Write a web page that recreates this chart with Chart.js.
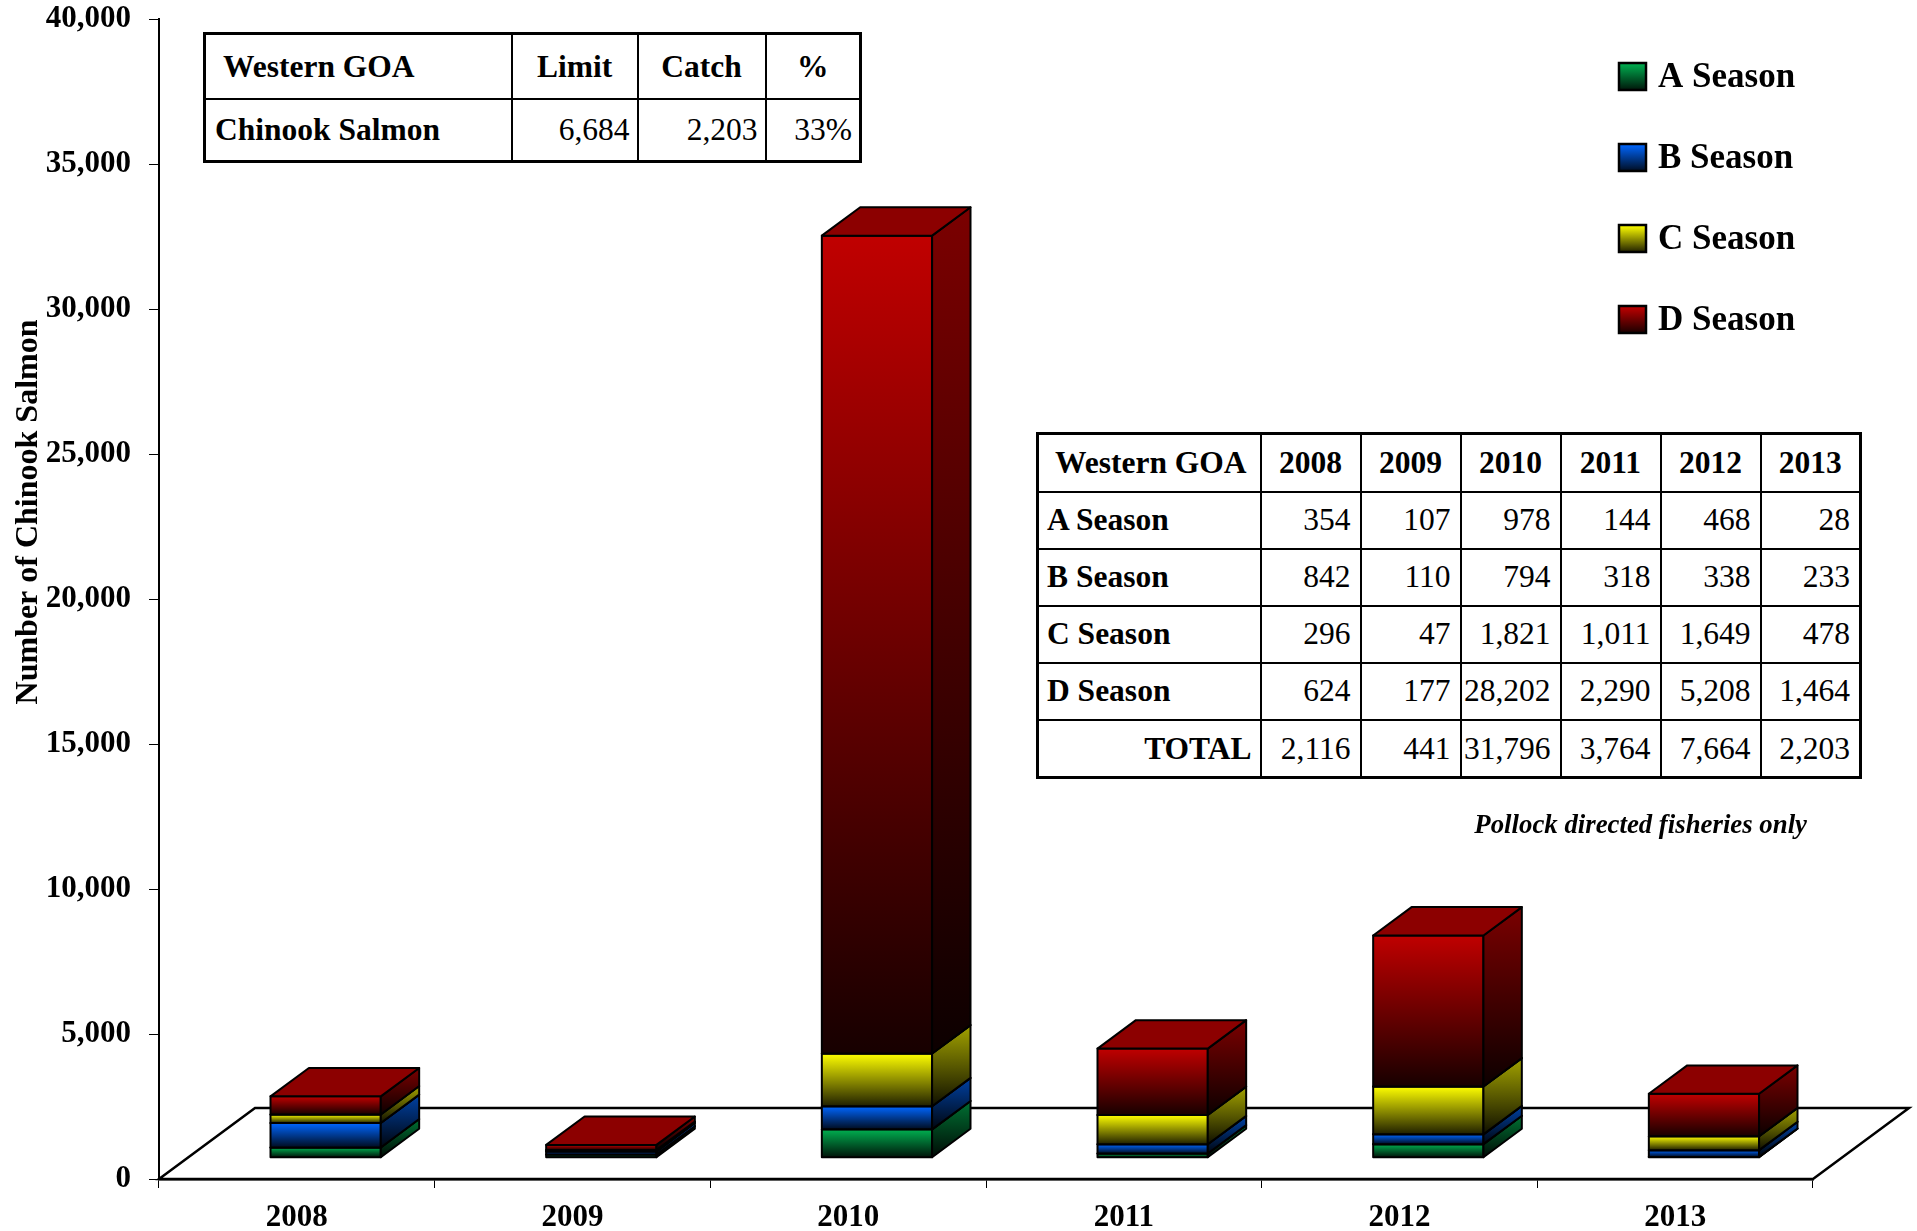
<!DOCTYPE html>
<html>
<head>
<meta charset="utf-8">
<script src="https://cdn.jsdelivr.net/npm/chart.js@4/dist/chart.umd.min.js"></script>
<style>
html,body{margin:0;padding:0;background:#fff;}
#wrap{position:relative;width:1917px;height:1231px;overflow:hidden;}
#chart{position:absolute;left:0;top:0;}
table.t{position:absolute;border-collapse:collapse;table-layout:fixed;font-family:"Liberation Serif","Times New Roman",serif;font-size:31.5px;color:#000;border:3px solid #000;background:#fff;}
table.t td{border:2px solid #000;padding:0;white-space:nowrap;overflow:hidden;line-height:1;}
td.b{font-weight:bold;}
td.l{text-align:left;}
td.c{text-align:center;}
td.r{text-align:right;}
#note{position:absolute;font-family:"Liberation Serif","Times New Roman",serif;font-size:26.8px;font-weight:bold;font-style:italic;color:#000;white-space:nowrap;}
</style>
</head>
<body>
<div id="wrap">
<canvas id="chart" width="1917" height="1231"></canvas>
<table class="t" id="t1"></table>
<table class="t" id="t2"></table>
<div id="note"></div>
</div>
<script>
// ---------- DATA ----------
const categories = ['2008', '2009', '2010', '2011', '2012', '2013'];
const seasonLabels = ['A Season', 'B Season', 'C Season', 'D Season'];
const aSeason = [354, 107, 978, 144, 468, 28];
const bSeason = [842, 110, 794, 318, 338, 233];
const cSeason = [296, 47, 1821, 1011, 1649, 478];
const dSeason = [624, 177, 28202, 2290, 5208, 1464];
const totals = [2116, 441, 31796, 3764, 7664, 2203];
const yAxisMax = 40000;
const yAxisStep = 5000;
const yAxisTitle = 'Number of Chinook Salmon';
const tableRegion = 'Western GOA';
const summaryHeaders = ['Limit', 'Catch', '%'];
const summaryLabel = 'Chinook Salmon';
const summaryLimit = 6684;
const summaryCatch = 2203;
const summaryPct = '33%';
const totalLabel = 'TOTAL';
const noteText = 'Pollock directed fisheries only';

// ---------- STYLE ----------
const seasonColors = ['#00B050', '#0066FF', '#FFFF00', '#C00000'];
const FONT = '"Liberation Serif", "Times New Roman", serif';
const FLOOR = { dx: 96, dy: -71 };
const BAR_FRONT = 0.3, BAR_DEPTH = 0.4;

function shade(hex, f) {
  const n = parseInt(hex.slice(1), 16);
  const r = Math.round(((n >> 16) & 255) * f);
  const g = Math.round(((n >> 8) & 255) * f);
  const b = Math.round((n & 255) * f);
  return `rgb(${r},${g},${b})`;
}
const fmt = v => Number(v).toLocaleString('en-US');

const seriesValues = [aSeason, bSeason, cSeason, dSeason];

const bars3d = {
  id: 'bars3d',
  beforeDatasetsDraw(chart) {
    const { ctx, chartArea: a, scales: { y } } = chart;
    const y0 = y.getPixelForValue(0);
    ctx.save();
    ctx.beginPath();
    ctx.moveTo(a.left, y0);
    ctx.lineTo(a.left + FLOOR.dx, y0 + FLOOR.dy);
    ctx.lineTo(a.right + FLOOR.dx, y0 + FLOOR.dy);
    ctx.lineTo(a.right, y0);
    ctx.closePath();
    ctx.fillStyle = '#fff';
    ctx.fill();
    ctx.lineWidth = 2.5;
    ctx.strokeStyle = '#000';
    ctx.stroke();
    ctx.restore();
  },
  afterDatasetsDraw(chart) {
    const ctx = chart.ctx;
    const ox = FLOOR.dx * BAR_FRONT, oy = FLOOR.dy * BAR_FRONT;
    const dx = FLOOR.dx * BAR_DEPTH, dy = FLOOR.dy * BAR_DEPTH;
    const n = chart.data.labels.length;
    ctx.save();
    ctx.lineJoin = 'round';
    ctx.strokeStyle = '#000';
    ctx.lineWidth = 2;
    for (let i = 0; i < n; i++) {
      chart.data.datasets.forEach((ds, di) => {
        const el = chart.getDatasetMeta(di).data[i];
        const p = el.getProps(['x', 'y', 'base', 'width'], true);
        const xl = p.x - p.width / 2 + ox, xr = p.x + p.width / 2 + ox;
        const yt = Math.min(p.y, p.base) + oy, yb = Math.max(p.y, p.base) + oy;
        const c = seasonColors[di];
        // front
        let g = ctx.createLinearGradient(0, yt, 0, yb);
        g.addColorStop(0, shade(c, 1));
        g.addColorStop(1, shade(c, 0.12));
        ctx.fillStyle = g;
        ctx.beginPath();
        ctx.rect(xl, yt, xr - xl, yb - yt);
        ctx.fill(); ctx.stroke();
        // side
        g = ctx.createLinearGradient(0, yt + dy, 0, yb);
        g.addColorStop(0, shade(c, 0.64));
        g.addColorStop(1, shade(c, 0.06));
        ctx.fillStyle = g;
        ctx.beginPath();
        ctx.moveTo(xr, yt);
        ctx.lineTo(xr + dx, yt + dy);
        ctx.lineTo(xr + dx, yb + dy);
        ctx.lineTo(xr, yb);
        ctx.closePath();
        ctx.fill(); ctx.stroke();
        // top
        ctx.fillStyle = shade(c, 0.73);
        ctx.beginPath();
        ctx.moveTo(xl, yt);
        ctx.lineTo(xl + dx, yt + dy);
        ctx.lineTo(xr + dx, yt + dy);
        ctx.lineTo(xr, yt);
        ctx.closePath();
        ctx.fill(); ctx.stroke();
      });
    }
    ctx.restore();
  },
  afterDraw(chart) {
    const ctx = chart.ctx;
    ctx.save();
    // legend
    ctx.font = `bold 35px ${FONT}`;
    ctx.textAlign = 'left';
    ctx.textBaseline = 'middle';
    chart.data.datasets.forEach((ds, k) => {
      const cy = 76.5 + k * 81;
      const g = ctx.createLinearGradient(0, cy - 13, 0, cy + 13);
      g.addColorStop(0, shade(seasonColors[k], 1));
      g.addColorStop(1, shade(seasonColors[k], 0.15));
      ctx.fillStyle = g;
      ctx.fillRect(1619, cy - 13.5, 27, 27);
      ctx.lineWidth = 2.5;
      ctx.strokeStyle = '#000';
      ctx.strokeRect(1619, cy - 13.5, 27, 27);
      ctx.fillStyle = '#000';
      ctx.fillText(ds.label, 1658, cy + 1);
    });
    // y title
    ctx.translate(29, 512);
    ctx.rotate(-Math.PI / 2);
    ctx.font = `bold 32px ${FONT}`;
    ctx.textAlign = 'center';
    ctx.fillText(yAxisTitle, 0, 0);
    ctx.restore();
  }
};

const tickFont = { family: FONT, weight: 'bold', size: 31 };

new Chart(document.getElementById('chart'), {
  type: 'bar',
  data: {
    labels: categories,
    datasets: seriesValues.map((vals, k) => ({
      label: seasonLabels[k],
      data: vals,
      backgroundColor: 'rgba(0,0,0,0)',
      borderWidth: 0,
      barPercentage: 0.4,
      categoryPercentage: 1
    }))
  },
  options: {
    responsive: false,
    animation: false,
    events: [],
    layout: { padding: { top: 19, right: 104, bottom: 0, left: 0 } },
    plugins: { legend: { display: false }, tooltip: { enabled: false } },
    scales: {
      x: {
        stacked: true,
        offset: true,
        grid: { offset: true, drawOnChartArea: false, drawTicks: true, tickLength: 9, color: '#000', lineWidth: 1 },
        border: { display: true, color: '#000', width: 2.5 },
        ticks: { font: tickFont, color: '#000', padding: 11, maxRotation: 0, autoSkip: false },
        afterFit(s) { s.height = 52; s.paddingLeft = 0; s.paddingRight = 0; }
      },
      y: {
        stacked: true,
        min: 0,
        max: yAxisMax,
        grid: { drawOnChartArea: false, drawTicks: true, tickLength: 10, color: '#000', lineWidth: 1 },
        border: { display: true, color: '#000', width: 2 },
        ticks: { stepSize: yAxisStep, font: tickFont, color: '#000', padding: 18, callback: v => fmt(v) },
        afterFit(s) { s.width = 159; s.paddingTop = 0; s.paddingBottom = 0; }
      }
    }
  },
  plugins: [bars3d]
});

// ---------- TABLES ----------
function cell(text, cls) { return `<td class="${cls}">${text}</td>`; }

const t1 = document.getElementById('t1');
Object.assign(t1.style, { left: '203px', top: '32px', width: '656px', height: '128px' });
t1.innerHTML =
  '<colgroup><col style="width:307px"><col style="width:126px"><col style="width:128px"><col style="width:95px"></colgroup>' +
  '<tr style="height:65px">' + cell(tableRegion, 'b l" style="padding-left:17px') +
  summaryHeaders.map(h => cell(h, 'b c')).join('') + '</tr>' +
  '<tr style="height:63px">' + cell(summaryLabel, 'b l" style="padding-left:9px') +
  cell(fmt(summaryLimit), 'r" style="padding-right:7px') +
  cell(fmt(summaryCatch), 'r" style="padding-right:7px') +
  cell(summaryPct, 'r" style="padding-right:7px') + '</tr>';

const t2 = document.getElementById('t2');
Object.assign(t2.style, { left: '1036px', top: '432px', width: '824px', height: '346px' });
let h2 = '<colgroup><col style="width:223px">' + categories.map(() => '<col style="width:100px">').join('') + '</colgroup>';
h2 += '<tr style="height:58px">' + cell(tableRegion, 'b l" style="padding-left:16px') +
  categories.map(c => cell(c, 'b c')).join('') + '</tr>';
seriesValues.forEach((vals, k) => {
  h2 += '<tr style="height:57px">' + cell(seasonLabels[k], 'b l" style="padding-left:8px') +
    vals.map(v => cell(fmt(v), 'r" style="padding-right:9px')).join('') + '</tr>';
});
h2 += '<tr style="height:58px">' + cell(totalLabel, 'b r" style="padding-right:8px') +
  totals.map(v => cell(fmt(v), 'r" style="padding-right:9px')).join('') + '</tr>';
t2.innerHTML = h2;

const note = document.getElementById('note');
note.textContent = noteText;
Object.assign(note.style, { right: '110px', top: '809px' });
</script>
</body>
</html>
